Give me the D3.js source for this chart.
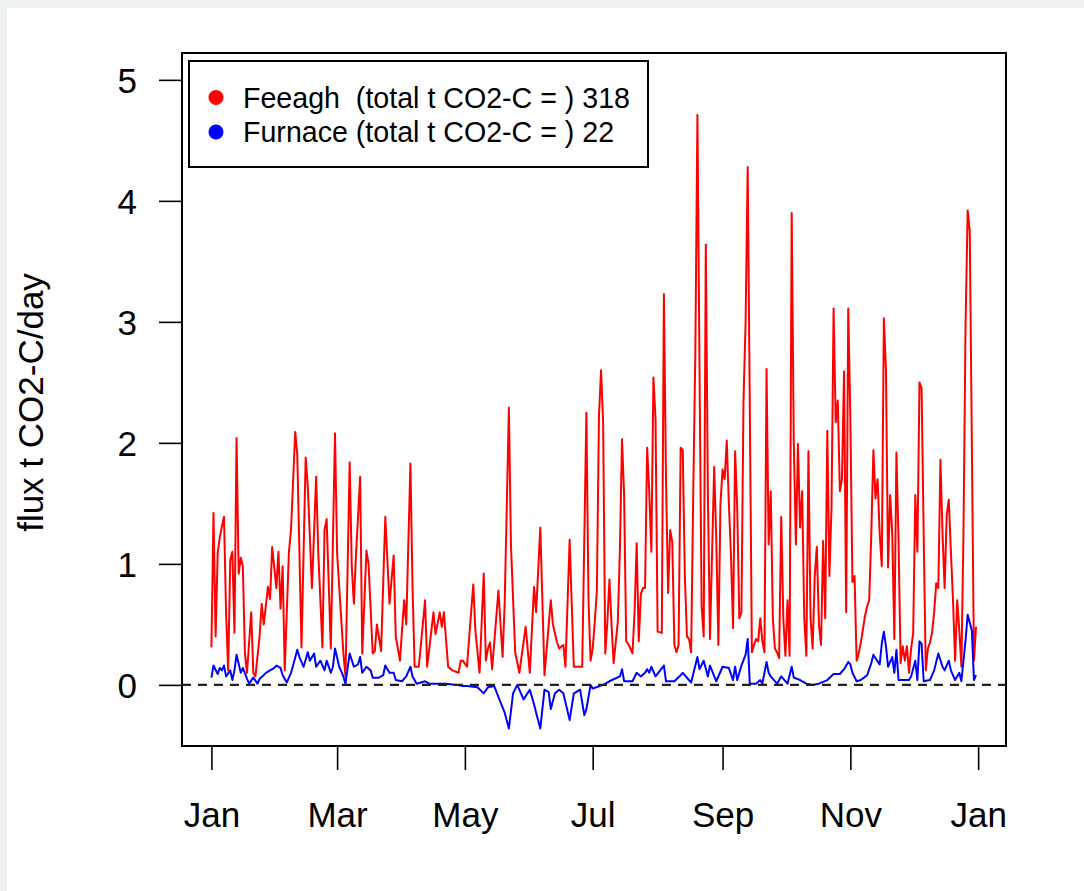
<!DOCTYPE html>
<html>
  <head>
    <title>CO2 flux Feeagh and Furnace</title>
    <script src="https://d3js.org/d3.v7.min.js"></script>
    <style>
      body { margin: 0; background: #eef2f2; }
      svg { display: block; }
      text { font-family: "Liberation Sans", Arial, sans-serif; fill: #000; }
      .axis .tick text { font-size: 35px; }
      .axis .tick line { stroke: #000; stroke-width: 1.6; }
      .axis path.domain { display: none; }
      .axis-label { font-size: 35px; }
      .legend text { font-size: 28.6px; white-space: pre; }
    </style>
  </head>
  <body>
    <svg width="1084" height="891"></svg>
    <script>
      // [day of year 2016, flux t CO2-C/day]
      const feeagh = [
        [0,0.31],[1,1.42],[2,0.40],[3,1.09],[4,1.22],[5,1.31],[6,1.39],[7,0.6],[8,0.12],[9,1.03],
        [10,1.1],[11,0.43],[12,2.04],[13,0.92],[14,1.05],[15,0.98],[16,0.26],[17,0.1],[19,0.6],[20,0.1],
        [21,0.07],[23,0.4],[24,0.67],[25,0.5],[27,0.81],[28,0.71],[29,1.14],[31,0.8],[32,1.1],[33,0.63],
        [34,0.98],[35,0.12],[37,1.1],[38,1.28],[40,2.09],[41,1.9],[43,0.31],[45,1.88],[46,1.64],[48,0.8],
        [50,1.72],[51,1.1],[53,0.31],[54,1.28],[55,1.37],[57,0.3],[59,2.08],[60,1.09],[63,0.26],[64,0.07],
        [66,1.84],[67,0.98],[68,0.67],[69,1.07],[71,1.72],[72,0.26],[74,1.11],[75,1.0],[77,0.26],[78,0.28],
        [79,0.5],[81,0.28],[83,1.39],[85,0.67],[87,1.07],[88,0.4],[90,0.2],[92,0.7],[93,0.5],[95,1.83],
        [96,0.81],[97,0.15],[99,0.15],[102,0.7],[103,0.15],[106,0.6],[107,0.42],[109,0.6],[110,0.48],[111,0.6],
        [113,0.15],[115,0.12],[118,0.1],[119,0.2],[120,0.2],[122,0.15],[125,0.83],[126,0.45],[128,0.1],[130,0.92],
        [131,0.2],[132,0.3],[133,0.35],[134,0.13],[137,0.78],[139,0.23],[140,0.68],[142,2.29],[143,1.15],[145,0.27],
        [147,0.1],[150,0.48],[152,0.1],[154,0.81],[155,0.6],[157,1.3],[159,0.08],[162,0.7],[163,0.5],[165,0.35],
        [166,0.3],[168,0.33],[169,0.15],[171,1.2],[173,0.15],[177,0.15],[179,2.25],[180,0.7],[181,0.2],[182,0.3],
        [183,0.52],[184,0.78],[185,2.22],[186,2.6],[187,2.16],[188,0.26],[189,0.52],[190,0.87],[191,0.5],[192,0.18],
        [194,0.52],[195,1.12],[196,2.03],[197,1.57],[198,0.36],[199,0.34],[201,0.26],[202,0.6],[203,1.17],[204,0.36],
        [205,0.75],[206,0.8],[207,0.8],[208,1.96],[209,1.6],[210,1.1],[211,2.54],[212,2.2],[213,0.44],[215,0.43],
        [216,3.23],[217,1.7],[218,0.76],[219,1.28],[220,1.18],[221,0.33],[222,0.27],[223,0.33],[224,1.96],[225,1.94],
        [226,0.9],[227,0.4],[228,0.38],[229,0.27],[230,1.57],[231,2.74],[232,4.71],[233,2.6],[234,0.65],[235,0.4],
        [236,3.64],[237,1.57],[238,0.38],[240,1.8],[241,1.2],[242,0.33],[243,1.5],[244,1.78],[245,1.7],[246,2.02],
        [247,1.5],[248,1.08],[249,0.47],[250,1.93],[251,1.46],[252,0.55],[253,0.6],[254,2.35],[255,3.0],[256,4.28],
        [257,2.3],[258,0.27],[259,0.33],[260,0.38],[261,0.36],[262,0.55],[263,0.36],[264,0.27],[265,2.61],[266,1.16],
        [267,1.6],[268,0.55],[269,0.3],[270,0.27],[271,0.22],[272,1.39],[273,0.55],[274,0.24],[275,0.7],[276,0.24],
        [277,3.9],[278,2.0],[279,1.16],[280,1.99],[281,1.3],[282,1.6],[283,0.55],[284,0.24],[285,1.93],[286,0.55],
        [287,0.3],[288,0.9],[289,1.14],[290,0.5],[291,0.33],[292,1.19],[293,0.55],[294,2.1],[295,0.9],[296,1.46],
        [297,3.11],[298,2.17],[299,2.35],[300,1.6],[301,1.7],[302,2.59],[303,0.6],[304,3.11],[305,2.2],[306,0.85],
        [307,0.9],[308,0.2],[309,0.26],[310,0.35],[311,0.46],[312,0.57],[313,0.65],[314,0.7],[315,1.25],[316,1.94],
        [317,1.54],[318,1.7],[319,1.25],[320,0.98],[321,3.03],[322,2.6],[323,0.97],[324,1.57],[325,1.25],[326,0.38],
        [327,1.92],[328,1.2],[329,0.18],[330,0.32],[331,0.2],[332,0.32],[333,0.1],[334,0.3],[335,0.43],[336,1.57],
        [337,1.1],[338,2.5],[339,2.45],[340,1.25],[341,0.12],[342,0.3],[343,0.35],[344,0.43],[345,0.6],[346,0.84],
        [347,0.8],[348,1.86],[349,1.25],[350,0.8],[351,1.4],[352,1.53],[353,1.1],[354,0.7],[355,0.2],[356,0.7],
        [357,0.45],[358,0.15],[359,1.25],[360,2.98],[361,3.92],[362,3.75],[363,2.0],[364,0.2],[365,0.48]
      ];

      const furnace = [
        [0,0.06],[1,0.16],[3,0.09],[4,0.14],[5,0.12],[6,0.16],[7,0.07],[9,0.12],[10,0.04],[11,0.12],
        [12,0.25],[14,0.1],[15,0.14],[17,0.05],[18,0.01],[20,0.06],[22,0.01],[23,0.05],[25,0.08],[26,0.1],
        [28,0.12],[30,0.14],[31,0.16],[33,0.14],[34,0.08],[36,0.02],[38,0.1],[39,0.16],[41,0.29],[42,0.23],
        [44,0.15],[46,0.27],[47,0.2],[49,0.26],[50,0.15],[52,0.2],[54,0.12],[55,0.2],[57,0.1],[58,0.15],
        [59,0.3],[61,0.15],[63,0.07],[64,0.01],[66,0.26],[68,0.15],[70,0.17],[71,0.23],[72,0.1],[74,0.15],
        [76,0.12],[77,0.06],[80,0.06],[82,0.08],[83,0.16],[85,0.1],[87,0.1],[88,0.04],[91,0.03],[93,0.07],
        [95,0.15],[96,0.07],[98,0.01],[102,0.03],[104,0.01],[109,0.01],[112,0.01],[117,0],[120,-0.01],[122,-0.01],
        [127,-0.02],[130,-0.07],[132,-0.02],[135,-0.01],[137,-0.1],[140,-0.23],[142,-0.36],[144,-0.07],[146,0],[149,-0.12],
        [152,-0.04],[154,-0.16],[155,-0.23],[157,-0.36],[159,-0.04],[161,-0.06],[162,-0.2],[164,-0.07],[166,-0.04],[168,-0.07],
        [171,-0.29],[173,-0.07],[176,-0.04],[178,-0.25],[179,-0.2],[180,-0.1],[181,0],[182,-0.03],[187,0],[190,0.03],
        [195,0.07],[196,0.13],[197,0.03],[201,0.03],[203,0.1],[205,0.07],[207,0.1],[208,0.13],[209,0.1],[210,0.15],
        [212,0.07],[216,0.16],[217,0.03],[221,0.03],[224,0.08],[225,0.1],[229,0.02],[232,0.23],[233,0.13],[235,0.2],
        [237,0.07],[238,0.16],[241,0.03],[244,0.15],[247,0.14],[249,0.04],[250,0.15],[251,0.04],[253,0.16],[255,0.25],
        [256,0.38],[257,0.01],[260,0.01],[262,0.04],[263,0.01],[265,0.19],[266,0.1],[267,0.07],[270,0.01],[272,0.07],
        [275,0.01],[277,0.15],[278,0.06],[281,0.04],[284,0.01],[287,0],[290,0.01],[294,0.04],[297,0.09],[300,0.09],
        [302,0.13],[304,0.19],[305,0.17],[306,0.1],[308,0.03],[310,0.04],[313,0.08],[315,0.18],[316,0.25],[317,0.22],
        [319,0.17],[320,0.34],[321,0.44],[322,0.32],[323,0.15],[325,0.23],[326,0.1],[327,0.29],[328,0.04],[330,0.04],
        [333,0.04],[334,0.07],[336,0.2],[337,0.04],[338,0.36],[339,0.34],[340,0.03],[343,0.04],[345,0.12],[347,0.26],
        [349,0.15],[350,0.12],[352,0.2],[353,0.12],[355,0.04],[357,0.1],[358,0.03],[360,0.37],[361,0.58],[363,0.45],
        [364,0.04],[365,0.08]
      ];

      const seriesNames = ["Feeagh  (total t CO2-C = ) 318", "Furnace (total t CO2-C = ) 22"];
      const seriesColors = ["#ff0000", "#0000ff"];
      const yTicks = [0, 1, 2, 3, 4, 5];
      const monthTicks = ["2016-01-01", "2016-03-01", "2016-05-01", "2016-07-01", "2016-09-01", "2016-11-01", "2017-01-01"];

      const svg = d3.select("svg");
      svg.append("rect")
          .attr("x", 7).attr("y", 8)
          .attr("width", 1084 - 7).attr("height", 891 - 8)
          .attr("fill", "#fff");

      const plot = { left: 182, top: 53, right: 1006, bottom: 746 };
      const start = new Date(2016, 0, 1);
      const dayMs = 864e5;
      const toDate = d => d3.timeDay.offset(start, d);

      const x = d3.scaleTime()
          .domain([new Date(+start - 14.04 * dayMs), new Date(+start + 379.3 * dayMs)])
          .range([plot.left, plot.right]);
      const y = d3.scaleLinear()
          .domain([-0.505, 5.222])
          .range([plot.bottom, plot.top]);

      // axes
      svg.append("g")
          .attr("class", "axis")
          .attr("transform", `translate(0, ${plot.bottom})`)
          .call(d3.axisBottom(x)
            .tickValues(monthTicks.map(s => { const p = s.split("-"); return new Date(+p[0], +p[1] - 1, 1); }))
            .tickFormat(d3.timeFormat("%b"))
            .tickSize(24))
          .selectAll(".tick text")
            .attr("y", 81)
            .attr("dy", null);

      svg.append("g")
          .attr("class", "axis")
          .attr("transform", `translate(${plot.left}, 0)`)
          .call(d3.axisLeft(y).tickValues(yTicks).tickFormat(d3.format("d")).tickSize(23))
          .selectAll(".tick text")
            .attr("x", -45)
            .attr("dy", "0.36em");

      svg.append("text")
          .attr("class", "axis-label")
          .attr("transform", `translate(43, ${(plot.top + plot.bottom) / 2 + 3}) rotate(-90)`)
          .attr("text-anchor", "middle")
          .text("flux t CO2-C/day");

      // series
      const line = d3.line()
          .x(d => x(toDate(d[0])))
          .y(d => y(d[1]));

      [feeagh, furnace].forEach((s, i) => {
        svg.append("path")
            .datum(s)
            .attr("fill", "none")
            .attr("stroke", seriesColors[i])
            .attr("stroke-width", 2)
            .attr("stroke-linejoin", "round")
            .attr("d", line);
      });

      svg.append("line")
          .attr("x1", plot.left).attr("x2", plot.right)
          .attr("y1", y(0)).attr("y2", y(0))
          .attr("stroke", "#222")
          .attr("stroke-width", 2.2)
          .attr("stroke-dasharray", "9,7");

      svg.append("rect")
          .attr("x", plot.left).attr("y", plot.top)
          .attr("width", plot.right - plot.left)
          .attr("height", plot.bottom - plot.top)
          .attr("fill", "none")
          .attr("stroke", "#000")
          .attr("stroke-width", 2);

      // legend
      const legendG = svg.append("g").attr("class", "legend");
      legendG.append("rect")
          .attr("x", 189).attr("y", 61)
          .attr("width", 459).attr("height", 106)
          .attr("fill", "#fff")
          .attr("stroke", "#000")
          .attr("stroke-width", 2);

      const items = legendG.selectAll(".item")
        .data(seriesNames)
        .enter().append("g")
          .attr("class", "item")
          .attr("transform", (d, i) => `translate(0, ${97.5 + i * 34.5})`);

      items.append("circle")
          .attr("cx", 216)
          .attr("r", 7.5)
          .attr("fill", (d, i) => seriesColors[i]);

      items.append("text")
          .attr("x", 243)
          .attr("dy", "0.36em")
          .text(d => d);
    </script>
  </body>
</html>
